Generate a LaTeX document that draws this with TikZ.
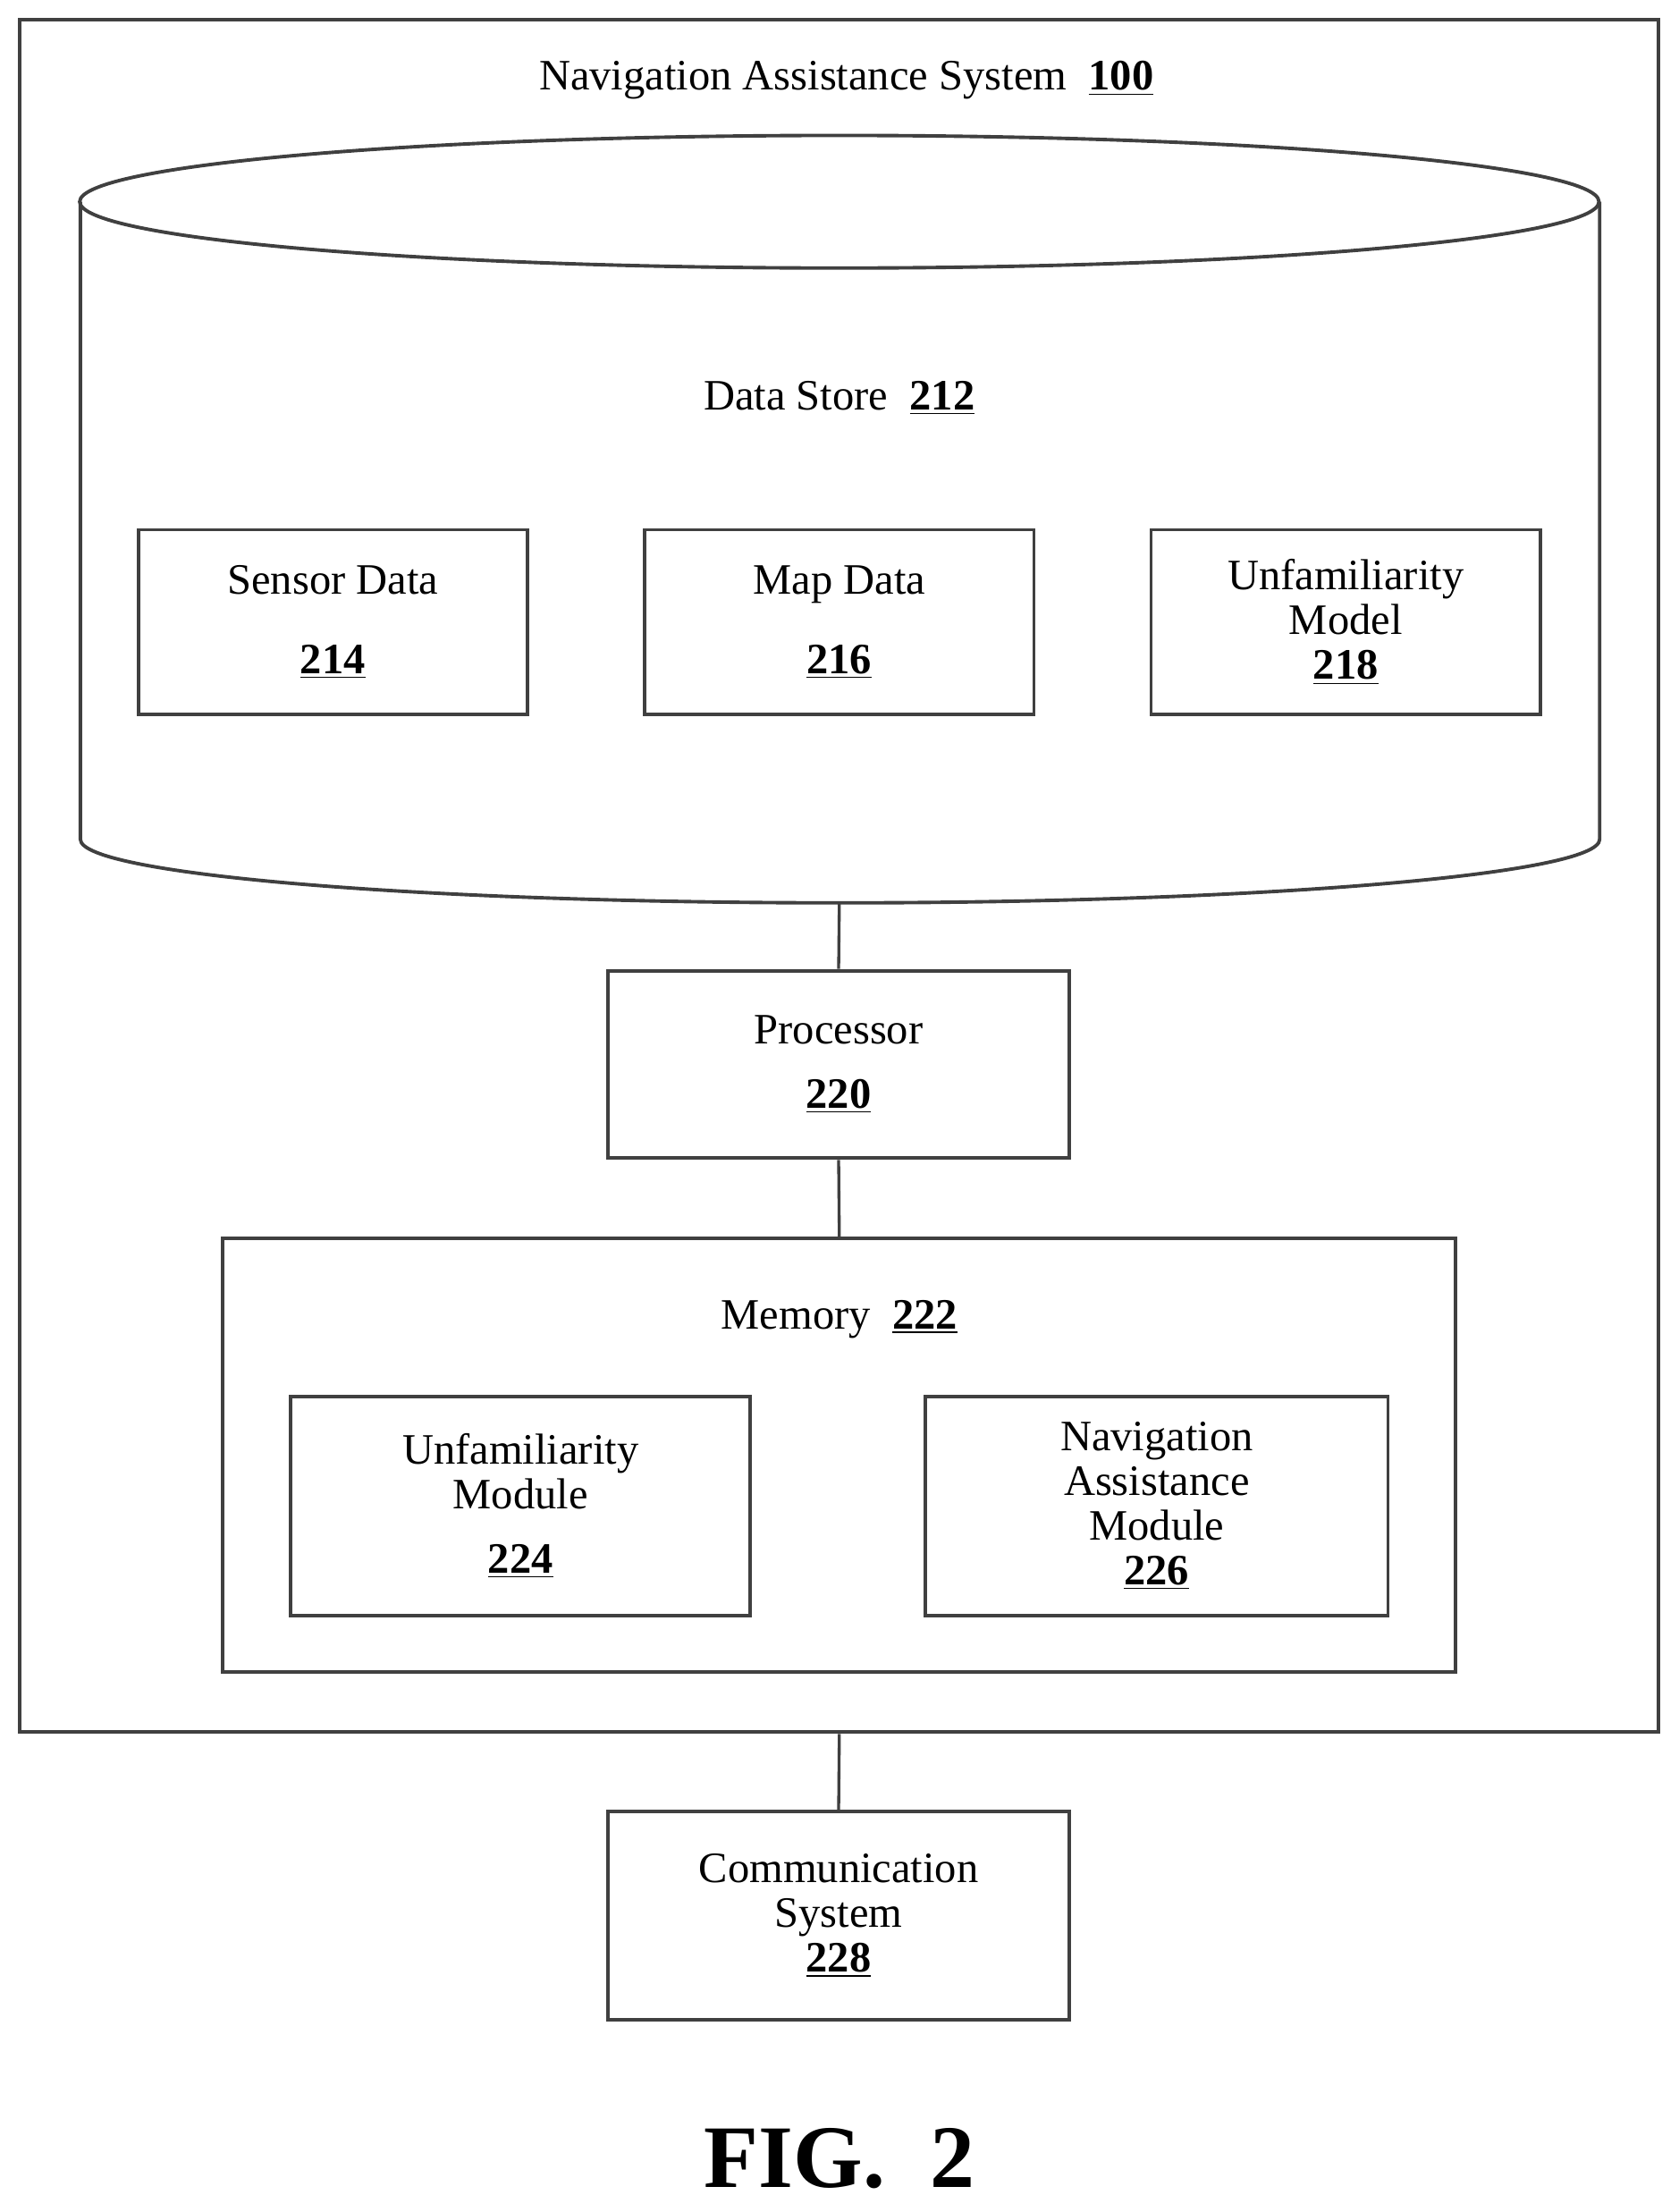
\documentclass[tikz,border=0pt]{standalone}
\usepackage{fontspec}
\setmainfont{Liberation Serif}
\usetikzlibrary{positioning}
\newcommand{\refnum}[1]{\textbf{\underline{#1}}}
\tikzset{
  box/.style={draw=black!75, line width=1.4pt, align=center, font=\fontsize{17.5}{18}\selectfont},
  lbl/.style={font=\fontsize{17.5}{18}\selectfont},
  link/.style={draw=black!75, line width=1.2pt}
}
\begin{document}
\begin{tikzpicture}[x=0.02cm,y=-0.02cm]
  \useasboundingbox (0,0) rectangle (1190,1568);

  % outer system box
  \node[box, minimum width=23.24cm, minimum height=24.28cm] (nas) at (595,621) {};
  \node[lbl] (nastitle) at (600,57) {Navigation Assistance System\ \ \refnum{100}};

  % data store cylinder
  \draw[draw=black!75, line width=1.4pt] (57,143) -- (57,595) arc (180:0:538.5 and 45) -- (1134,143);
  \draw[draw=black!75, line width=1.4pt] (595,143) ellipse (538.5 and 47);
  \coordinate (dsbot) at (595,640);
  \node[lbl] (ds) at (595,282) {Data Store\ \ \refnum{212}};

  \node[box, minimum width=5.52cm, minimum height=2.62cm] (sensor) at (236,441) {Sensor Data\\[14pt]\refnum{214}};
  \node[box, minimum width=5.52cm, minimum height=2.62cm] (map) at (595,441) {Map Data\\[14pt]\refnum{216}};
  \node[box, minimum width=5.52cm, minimum height=2.62cm] (unfmodel) at (954,441) {Unfamiliarity\\Model\\\refnum{218}};

  \node[box, minimum width=6.54cm, minimum height=2.66cm] (proc) at (594.5,754.5) {Processor\\[8pt]\refnum{220}};

  % memory
  \node[box, minimum width=17.48cm, minimum height=6.14cm] (mem) at (595,1031.5) {};
  \node[lbl] (memtitle) at (595,935) {Memory\ \ \refnum{222}};
  \node[box, minimum width=6.52cm, minimum height=3.1cm] (unfmod) at (369,1067.5) {Unfamiliarity\\Module\\[8pt]\refnum{224}};
  \node[box, minimum width=6.56cm, minimum height=3.1cm] (navmod) at (820,1067.5) {Navigation\\Assistance\\Module\\\refnum{226}};

  \node[box, minimum width=6.54cm, minimum height=2.96cm] (comm) at (594.5,1358) {Communication\\System\\\refnum{228}};

  \draw[link] (dsbot) -- (proc.north);
  \draw[link] (proc.south) -- (mem.north);
  \draw[link] (nas.south) -- (comm.north);

  \node[font=\fontsize{36}{40}\selectfont\bfseries] (fig) at (595,1530) {FIG.\ \ 2};
\end{tikzpicture}
\end{document}
